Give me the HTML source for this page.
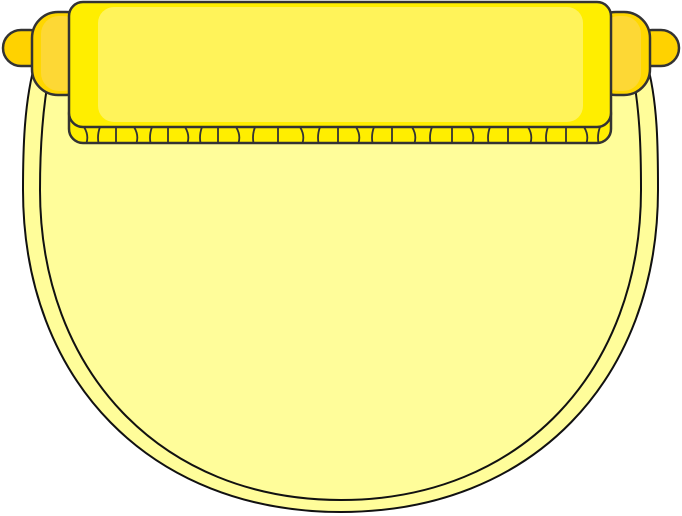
<!DOCTYPE html>
<html><head><meta charset="utf-8"><style>html,body{margin:0;padding:0;background:#fff}svg{display:block}</style></head>
<body>
<svg width="682" height="516" viewBox="0 0 682 516">
  <path d="M36,60 C24,100 23,150 23,190 C23,380 150,512 341,512 C532,512 658,380 658,190 C658,150 658,100 646,60 Z" fill="#fffd9a" stroke="#111" stroke-width="2"/>
  <path d="M50,70 C42,110 40,150 40,190 C40,370 160,500 341,500 C522,500 641,370 641,190 C641,150 640,110 632,70" fill="none" stroke="#111" stroke-width="2"/>
  <rect x="3" y="30" width="45" height="36" rx="18" fill="#ffd200" stroke="#333" stroke-width="2.5"/>
  <rect x="634" y="30" width="45" height="36" rx="18" fill="#ffd200" stroke="#333" stroke-width="2.5"/>
  <rect x="32" y="12" width="60" height="83" rx="26" fill="#ffd700" stroke="#333" stroke-width="2.5"/>
  <rect x="41" y="16" width="40" height="75" rx="18" fill="#fdd835"/>
  <rect x="590" y="12" width="60" height="83" rx="26" fill="#ffd700" stroke="#333" stroke-width="2.5"/>
  <rect x="601" y="16" width="40" height="75" rx="18" fill="#fdd835"/>
  <rect x="69" y="100" width="542" height="43" rx="14" fill="#ffee00" stroke="#333" stroke-width="2.5"/>
  <g stroke="#333" stroke-width="1.8" fill="none" id="fr"></g>
  <rect x="69" y="2" width="542" height="125" rx="14" fill="#ffee00" stroke="#333" stroke-width="2.5"/>
  <rect x="98" y="7" width="485" height="115" rx="16" fill="#fff35a"/>
</svg>
<script>
var g=document.getElementById('fr');
var xs=[84,100,116,134,152,168,185,202,218,236,255,278,300,320,338,356,374,392,412,432,452,470,490,508,528,548,566,584,600];
xs.forEach(function(x,i){
  var p=document.createElementNS('http://www.w3.org/2000/svg','path');
  var d=(i%3==0)?5:(i%3==1?-3:0);
  p.setAttribute('d','M'+x+',127 Q'+(x+d)+',135 '+(x+d/2)+',143');
  
  
  g.appendChild(p);
});
</script>
</body></html>
